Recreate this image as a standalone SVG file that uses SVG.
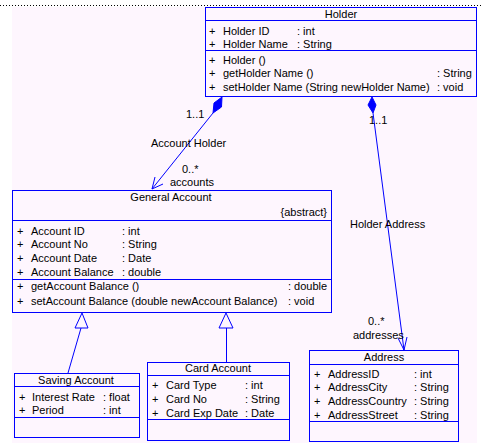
<svg xmlns="http://www.w3.org/2000/svg" width="483" height="446" viewBox="0 0 483 446">
<style>
text{font-family:"Liberation Sans",Arial,sans-serif;font-size:11px;fill:#000}
.box{fill:none;stroke:#0000ff;stroke-width:1}
.ln{fill:none;stroke:#0000ff;stroke-width:1}
.mid{text-anchor:middle}
.end{text-anchor:end}
</style>
<rect x="0" y="0" width="483" height="446" fill="#ffffff"/>
<rect x="12" y="7" width="465" height="436" fill="#fef6fe"/>
<line x1="0" y1="5.5" x2="483" y2="5.5" stroke="#000" stroke-width="1" stroke-dasharray="1 2"/>

<g id="connectors">
  <g id="account-holder">
    <polygon points="222,97 221.5,107 213,113 214,103" fill="#0000ff" stroke="#0000ff"/>
    <line class="ln" x1="213" y1="113" x2="152" y2="189"/>
    <polyline class="ln" points="155,177 152,189 163,184"/>
    <text x="186" y="118">1..1</text>
    <text x="151" y="147">Account Holder</text>
    <text x="182" y="173">0..*</text>
    <text x="170" y="186">accounts</text>
  </g>
  <g id="holder-address">
    <polygon points="372,97 376,105 373,113 368,105" fill="#0000ff" stroke="#0000ff"/>
    <line class="ln" x1="373" y1="113" x2="404" y2="350"/>
    <polyline class="ln" points="398,338 404,350 407,337"/>
    <text x="369" y="124">1..1</text>
    <text x="350" y="228">Holder Address</text>
    <text x="368" y="325">0..*</text>
    <text x="353" y="339">addresses</text>
  </g>
  <g id="gen-saving">
    <polygon points="82,313 88,328 75,328" fill="#fef6fe" stroke="#0000ff"/>
    <line class="ln" x1="81" y1="328" x2="68" y2="373"/>
  </g>
  <g id="gen-card">
    <polygon points="226,313 233,328 219,328" fill="#fef6fe" stroke="#0000ff"/>
    <line class="ln" x1="226.5" y1="328" x2="226.5" y2="362"/>
  </g>
</g>

<g id="holder">
  <rect class="box" x="205.5" y="7.5" width="271" height="89"/>
  <line class="ln" x1="205" y1="20.5" x2="477" y2="20.5"/>
  <line class="ln" x1="205" y1="50.5" x2="477" y2="50.5"/>
  <text class="mid" x="341" y="18">Holder</text>
  <text x="209" y="35">+</text><text x="223" y="35">Holder ID</text><text x="297" y="35">: int</text>
  <text x="209" y="48">+</text><text x="223" y="48">Holder Name</text><text x="297" y="48">: String</text>
  <text x="209" y="64">+</text><text x="223" y="64">Holder ()</text>
  <text x="209" y="77">+</text><text x="223" y="77">getHolder Name ()</text><text x="437" y="77">: String</text>
  <text x="209" y="91">+</text><text x="223" y="91">setHolder Name (String newHolder Name)</text><text x="437" y="91">: void</text>
</g>

<g id="general-account">
  <rect class="box" x="12.5" y="190.5" width="319" height="122"/>
  <line class="ln" x1="12" y1="220.5" x2="332" y2="220.5"/>
  <line class="ln" x1="12" y1="279.5" x2="332" y2="279.5"/>
  <text class="mid" x="171" y="201">General Account</text>
  <text class="end" x="327" y="216">{abstract}</text>
  <text x="17" y="235">+</text><text x="31" y="235">Account ID</text><text x="122" y="235">: int</text>
  <text x="17" y="248">+</text><text x="31" y="248">Account No</text><text x="122" y="248">: String</text>
  <text x="17" y="262">+</text><text x="31" y="262">Account Date</text><text x="122" y="262">: Date</text>
  <text x="17" y="276">+</text><text x="31" y="276">Account Balance</text><text x="122" y="276">: double</text>
  <text x="17" y="290">+</text><text x="31" y="290">getAccount Balance ()</text><text x="288" y="290">: double</text>
  <text x="17" y="305">+</text><text x="31" y="305">setAccount Balance (double newAccount Balance)</text><text x="288" y="305">: void</text>
</g>

<g id="saving-account">
  <rect class="box" x="14.5" y="373.5" width="125" height="64"/>
  <line class="ln" x1="14" y1="386.5" x2="140" y2="386.5"/>
  <line class="ln" x1="14" y1="417.5" x2="140" y2="417.5"/>
  <text class="mid" x="76" y="384">Saving Account</text>
  <text x="19" y="401">+</text><text x="32" y="401">Interest Rate</text><text x="103" y="401">: float</text>
  <text x="19" y="414">+</text><text x="32" y="414">Period</text><text x="103" y="414">: int</text>
</g>

<g id="card-account">
  <rect class="box" x="147.5" y="362.5" width="142" height="78"/>
  <line class="ln" x1="147" y1="375.5" x2="290" y2="375.5"/>
  <line class="ln" x1="147" y1="419.5" x2="290" y2="419.5"/>
  <text class="mid" x="218" y="372">Card Account</text>
  <text x="152" y="389">+</text><text x="166" y="389">Card Type</text><text x="245" y="389">: int</text>
  <text x="152" y="403">+</text><text x="166" y="403">Card No</text><text x="245" y="403">: String</text>
  <text x="152" y="417">+</text><text x="166" y="417">Card Exp Date</text><text x="245" y="417">: Date</text>
</g>

<g id="address">
  <rect class="box" x="309.5" y="350.5" width="149" height="91"/>
  <line class="ln" x1="309" y1="364.5" x2="459" y2="364.5"/>
  <line class="ln" x1="309" y1="421.5" x2="459" y2="421.5"/>
  <text class="mid" x="384" y="361">Address</text>
  <text x="314" y="378">+</text><text x="328" y="378">AddressID</text><text x="414" y="378">: int</text>
  <text x="314" y="391">+</text><text x="328" y="391">AddressCity</text><text x="414" y="391">: String</text>
  <text x="314" y="405">+</text><text x="328" y="405">AddressCountry</text><text x="414" y="405">: String</text>
  <text x="314" y="419">+</text><text x="328" y="419">AddressStreet</text><text x="414" y="419">: String</text>
</g>
</svg>
